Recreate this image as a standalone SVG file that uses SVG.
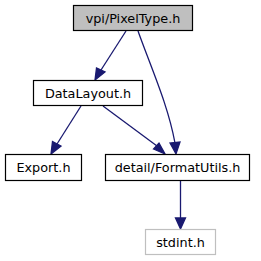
<svg xmlns="http://www.w3.org/2000/svg" width="261" height="261" viewBox="0 0 261 261">
<style>
.n rect{fill:#fff;stroke:#000;stroke-width:1.2}
.n text{font-family:"DejaVu Sans",sans-serif;font-size:12.8px;text-anchor:middle;fill:#000}
#n0 rect{fill:#bfbfbf;stroke:#000}
#n5 rect{stroke:#bfbfbf}
.e path{fill:none;stroke:#191970;stroke-width:1.3}
.e polygon{fill:#191970;stroke:#191970;stroke-width:1.3}
</style>
<rect width="261" height="261" fill="#fff"/>
<g class="e">
<path d="M126,31 L101,70"/>
<polygon points="96.5,68 95,80 105,72"/>
<path d="M138,31 C152,70 168,105 175,143"/>
<polygon points="170,143 176,154 180,142"/>
<path d="M81,106 L57,144"/>
<polygon points="52.5,141.5 51,154 61,146"/>
<path d="M103,106 L157,146"/>
<polygon points="153.5,149 165,154 159,143"/>
<path d="M180.5,181 L180.5,218"/>
<polygon points="175.5,218 180.5,229 185.5,218"/>
</g>
<g class="n" id="n0"><rect x="73.5" y="5.5" width="119" height="25"/><text x="133" y="22.5">vpi/PixelType.h</text></g>
<g class="n" id="n1"><rect x="33.5" y="80.5" width="109" height="25"/><text x="88" y="97.5">DataLayout.h</text></g>
<g class="n" id="n2"><rect x="5.5" y="154.5" width="76" height="26"/><text x="43.5" y="172">Export.h</text></g>
<g class="n" id="n3"><rect x="105.5" y="154.5" width="144" height="26"/><text x="177.5" y="172">detail/FormatUtils.h</text></g>
<g class="n" id="n5"><rect x="145.5" y="229.5" width="70" height="25"/><text x="180.5" y="247">stdint.h</text></g>
</svg>
